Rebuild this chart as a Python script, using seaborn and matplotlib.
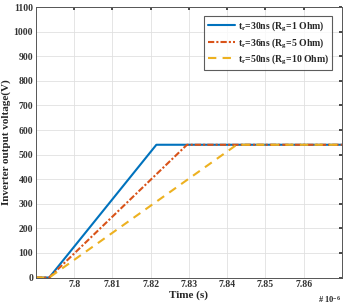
import numpy as np
import pandas as pd
import matplotlib
matplotlib.use("Agg")
import matplotlib.pyplot as plt
import seaborn as sns

# Data (time in microseconds, voltage in V)
t_start = 7.79
t_rise_begin = 7.7935
t_end = 7.87
peak_voltage = 540
rise_end_30 = 7.8215
rise_end_36 = 7.8295
rise_end_50 = 7.8425
labels = [r"t$_{\mathregular{r}}$=30ns (R$_{\mathregular{g}}$=1 Ohm)",
          r"t$_{\mathregular{r}}$=36ns (R$_{\mathregular{g}}$=5 Ohm)",
          r"t$_{\mathregular{r}}$=50ns (R$_{\mathregular{g}}$=10 Ohm)"]
colors = ["#0072BD", "#D95319", "#EDB120"]
yticks = [0, 100, 200, 300, 400, 500, 600, 700, 800, 900, 1000, 1100]
xticks = [7.80, 7.81, 7.82, 7.83, 7.84, 7.85, 7.86]

sns.set_theme(style="whitegrid")
plt.rcParams['font.family'] = ['Liberation Serif', 'DejaVu Serif']
plt.rcParams['font.weight'] = 'bold'
plt.rcParams['mathtext.fontset'] = 'custom'
plt.rcParams['mathtext.rm'] = 'Liberation Serif:bold'
plt.rcParams['mathtext.it'] = 'Liberation Serif:italic:bold'
plt.rcParams['mathtext.bf'] = 'Liberation Serif:bold'

rows = []
for lab, te in zip(labels, [rise_end_30, rise_end_36, rise_end_50]):
    for x, y in [(t_start, 0), (t_rise_begin, 0), (te, peak_voltage), (t_end, peak_voltage)]:
        rows.append({"t": x, "v": y, "series": lab})
df = pd.DataFrame(rows)

fig = plt.figure(figsize=(3.45, 3.07), dpi=100)
ax = fig.add_axes([0.104, 0.096, 0.887, 0.881])
styles = ["-", (0, (3, 1, 1, 1)), (0, (4, 3))]
for lab, c, ls in zip(labels, colors, styles):
    sub = df[df["series"] == lab]
    sns.lineplot(data=sub, x="t", y="v", ax=ax, color=c, linestyle=ls, linewidth=1.5, label=lab)

ax.set_xlim(t_start, t_end)
ax.set_ylim(0, 1100)
ax.set_xticks(xticks)
ax.set_xticklabels(["7.8", "7.81", "7.82", "7.83", "7.84", "7.85", "7.86"])
ax.set_yticks(yticks)
ax.tick_params(labelsize=7, length=2, direction='in', top=True, right=True, pad=2, colors='#333333')
for lab in ax.get_xticklabels() + ax.get_yticklabels():
    lab.set_fontweight('bold')
ax.grid(True, color='#e0e0e0', linewidth=0.6)
for s in ax.spines.values():
    s.set_color('#555555')
    s.set_linewidth(0.7)
ax.set_xlabel("Time (s)", fontsize=8, fontweight='bold', labelpad=1)
ax.set_ylabel("Inverter output voltage(V)", fontsize=8, fontweight='bold', labelpad=2)
fig.text(0.955, 0.008, r"# 10$^{\mathregular{-6}}$", fontsize=6, ha='center', va='bottom')

leg = ax.legend(loc='upper right', fontsize=7, frameon=True, fancybox=False,
                edgecolor='#333333', handlelength=2.8, handletextpad=0.3,
                borderpad=0.35, labelspacing=0.25, bbox_to_anchor=(0.985, 0.985))
leg.get_frame().set_linewidth(0.8)
for t in leg.get_texts():
    t.set_fontweight('bold')

fig.savefig("out.png", dpi=100)
